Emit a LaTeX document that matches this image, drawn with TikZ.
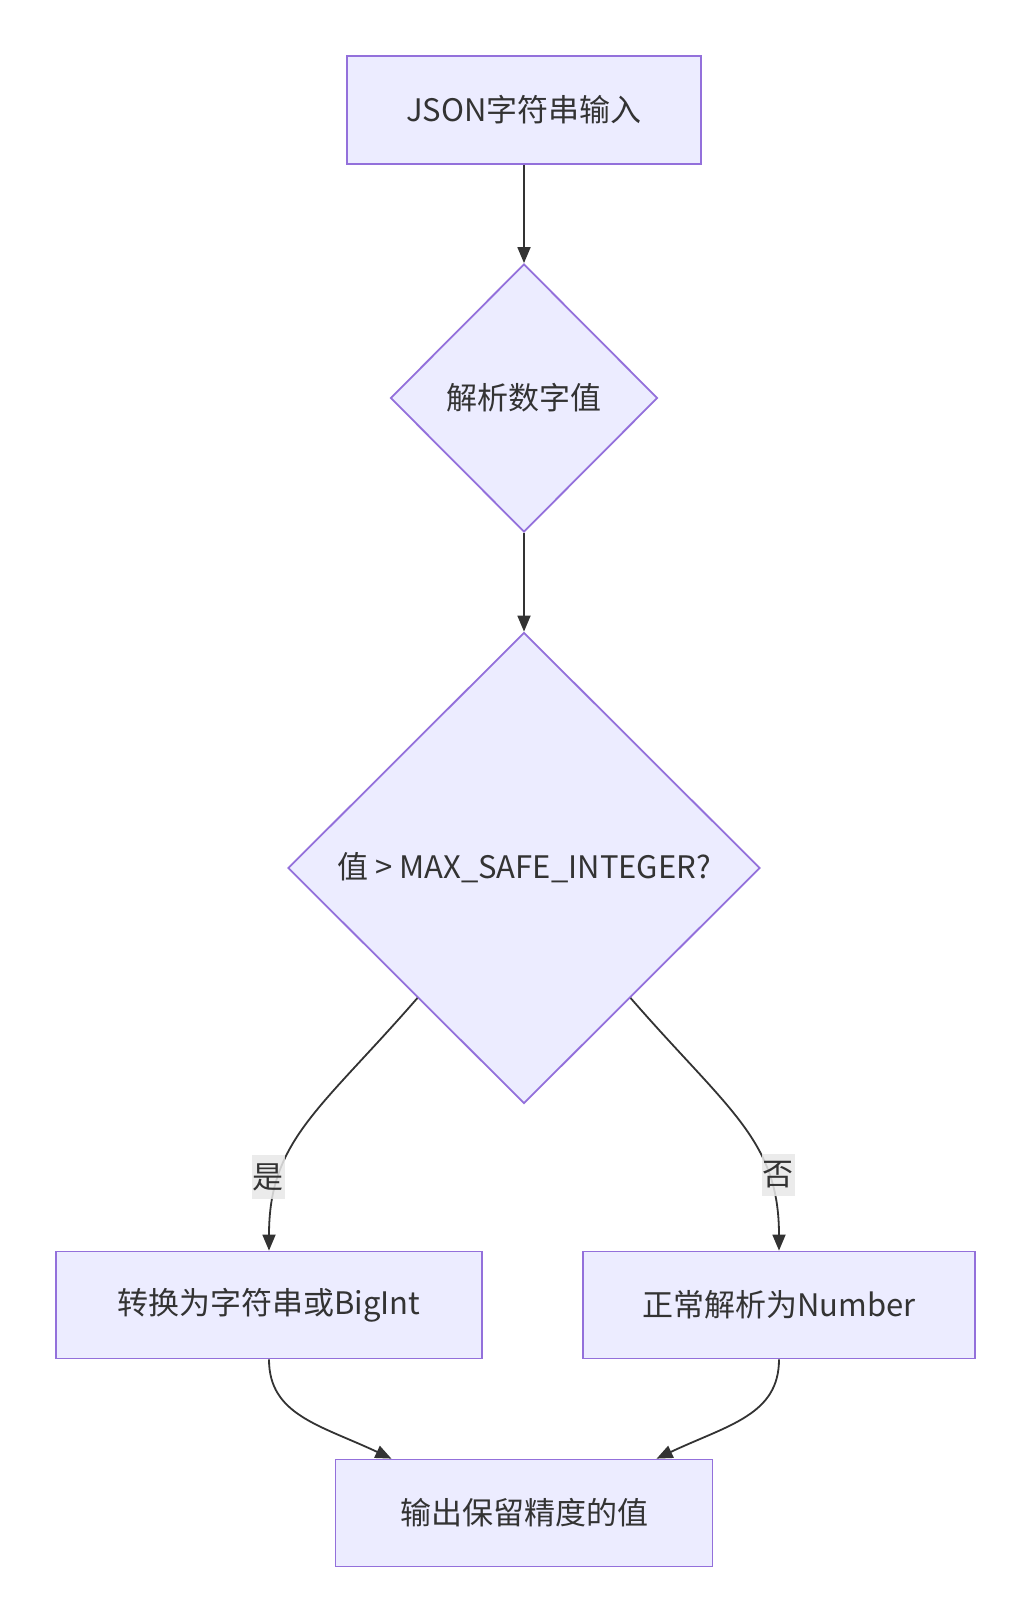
\documentclass[tikz,border=0pt]{standalone}
\usepackage{fontspec}
\setmainfont{Noto Sans CJK SC}
\usetikzlibrary{shapes.geometric,arrows.meta,calc}
\definecolor{nodefill}{HTML}{ECECFF}
\definecolor{nodeline}{HTML}{9370DB}
\definecolor{edgecol}{HTML}{333333}
\definecolor{labelbg}{HTML}{E8E8E8}
\tikzset{
  box/.style={draw=nodeline, fill=nodefill, line width=1.8pt, text=edgecol,
    font=\fontsize{31}{36}\selectfont, inner sep=0pt},
  decision/.style={diamond, draw=nodeline, fill=nodefill, line width=1.8pt, text=edgecol,
    font=\fontsize{31}{36}\selectfont, inner sep=0pt},
  flow/.style={draw=edgecol, line width=1.8pt, -{Triangle[length=16pt,width=13pt]}},
  elabel/.style={fill=labelbg, fill opacity=0.85, text opacity=1, text=edgecol,
    font=\fontsize{31}{36}\selectfont, inner xsep=1pt, inner ysep=8pt}
}
\begin{document}
\begin{tikzpicture}[x=1pt,y=1pt]
\useasboundingbox (0,0) rectangle (1030,-1623);
\node[box, minimum width=354pt, minimum height=108pt] (in) at (524,-110) {JSON字符串输入};
\node[decision, minimum width=267pt, minimum height=268pt] (d1) at (524,-398) {解析数字值};
\node[decision, minimum width=472pt, minimum height=471pt] (d2) at (524,-868) {值 > MAX\_SAFE\_INTEGER?};
\node[box, minimum width=426pt, minimum height=107pt] (yes) at (269,-1305) {转换为字符串或BigInt};
\node[box, minimum width=392pt, minimum height=107pt] (no) at (779,-1305) {正常解析为Number};
\node[box, minimum width=377pt, minimum height=107pt] (out) at (524,-1513) {输出保留精度的值};

\draw[flow] (in.south) -- (d1.north);
\draw[flow] (d1.south) -- (d2.north);

\coordinate (ys) at ($(d2.west)!0.55!(d2.south)$);
\coordinate (ns) at ($(d2.east)!0.55!(d2.south)$);
\draw[flow] (ys) .. controls (320,-1110) and (269,-1140) .. (yes.north);
\draw[flow] (ns) .. controls (728,-1110) and (779,-1140) .. (no.north);
\node[elabel] (lyes) at (268,-1177) {是};
\node[elabel] (lno) at (778,-1175) {否};

\coordinate (oa) at ($(out.north west)!0.15!(out.north east)$);
\coordinate (ob) at ($(out.north west)!0.85!(out.north east)$);
\draw[flow] (yes.south) .. controls (269,-1415) and (320,-1425) .. (oa);
\draw[flow] (no.south) .. controls (779,-1415) and (728,-1425) .. (ob);
\end{tikzpicture}
\end{document}
